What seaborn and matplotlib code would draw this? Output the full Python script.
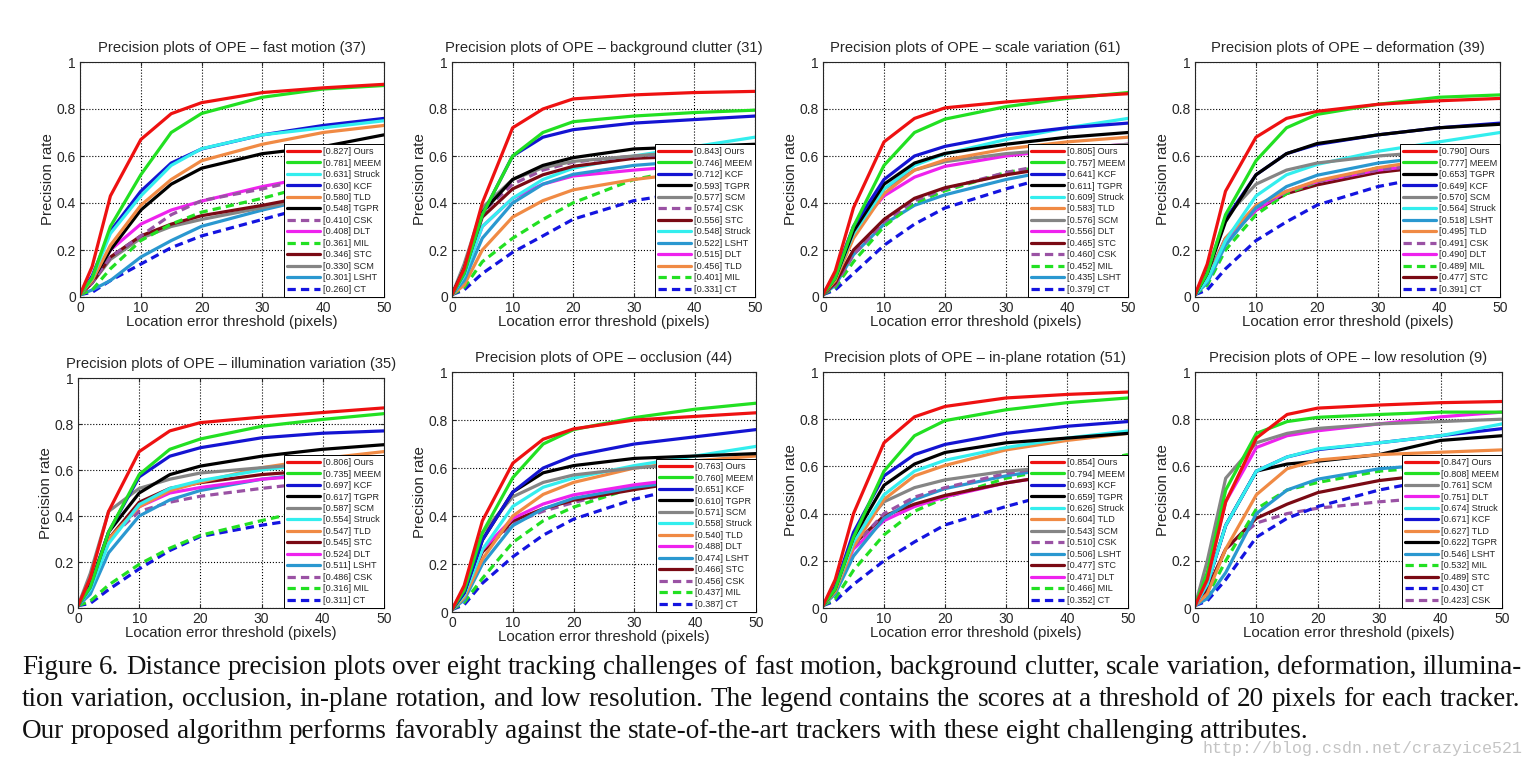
import seaborn as sns
import matplotlib.pyplot as plt

sns.set_style("ticks")
plt.rcParams['font.family'] = ['Liberation Sans', 'DejaVu Sans']

THR = [0, 2, 5, 10, 15, 20, 30, 40, 50]

COLORS = {
    "Ours": "#ee1111", "MEEM": "#22e022", "Struck": "#33eeee", "KCF": "#1414d2",
    "TLD": "#f08a44", "TGPR": "#000000", "CSK": "#9a52a4", "DLT": "#ee22ee",
    "MIL": "#22e022", "STC": "#7a0a14", "SCM": "#858585", "LSHT": "#2a98d0",
    "CT": "#1414e0",
}
DASHED = ["CSK", "MIL", "CT"]

fast_motion = {
    "Ours":   [0.01, 0.13, 0.43, 0.67, 0.78, 0.827, 0.87, 0.89, 0.905],
    "MEEM":   [0.01, 0.08, 0.30, 0.52, 0.70, 0.781, 0.85, 0.885, 0.90],
    "Struck": [0.01, 0.08, 0.27, 0.43, 0.56, 0.631, 0.69, 0.72, 0.75],
    "KCF":    [0.01, 0.09, 0.28, 0.45, 0.57, 0.630, 0.69, 0.73, 0.76],
    "TLD":    [0.01, 0.07, 0.22, 0.39, 0.50, 0.580, 0.65, 0.70, 0.73],
    "TGPR":   [0.01, 0.07, 0.20, 0.37, 0.48, 0.548, 0.61, 0.64, 0.69],
    "CSK":    [0.01, 0.06, 0.17, 0.26, 0.35, 0.410, 0.46, 0.52, 0.55],
    "DLT":    [0.01, 0.07, 0.20, 0.31, 0.37, 0.408, 0.47, 0.52, 0.56],
    "MIL":    [0.01, 0.03, 0.12, 0.24, 0.31, 0.361, 0.42, 0.49, 0.54],
    "STC":    [0.01, 0.06, 0.17, 0.26, 0.31, 0.346, 0.39, 0.44, 0.50],
    "SCM":    [0.01, 0.06, 0.16, 0.25, 0.30, 0.330, 0.38, 0.43, 0.50],
    "LSHT":   [0.01, 0.03, 0.07, 0.17, 0.24, 0.301, 0.37, 0.43, 0.48],
    "CT":     [0.01, 0.02, 0.07, 0.14, 0.21, 0.260, 0.33, 0.40, 0.47],
}
background_clutter = {
    "Ours":   [0.01, 0.12, 0.40, 0.72, 0.80, 0.843, 0.86, 0.87, 0.875],
    "MEEM":   [0.01, 0.10, 0.35, 0.60, 0.70, 0.746, 0.77, 0.785, 0.795],
    "KCF":    [0.01, 0.10, 0.35, 0.60, 0.68, 0.712, 0.74, 0.755, 0.77],
    "TGPR":   [0.01, 0.12, 0.36, 0.50, 0.56, 0.593, 0.63, 0.64, 0.65],
    "SCM":    [0.01, 0.14, 0.38, 0.50, 0.55, 0.577, 0.60, 0.62, 0.63],
    "CSK":    [0.01, 0.12, 0.36, 0.48, 0.54, 0.574, 0.60, 0.61, 0.62],
    "STC":    [0.01, 0.11, 0.34, 0.46, 0.52, 0.556, 0.59, 0.60, 0.61],
    "Struck": [0.01, 0.09, 0.30, 0.42, 0.50, 0.548, 0.60, 0.64, 0.68],
    "LSHT":   [0.01, 0.07, 0.25, 0.40, 0.48, 0.522, 0.56, 0.58, 0.60],
    "DLT":    [0.01, 0.09, 0.30, 0.42, 0.48, 0.515, 0.54, 0.56, 0.57],
    "TLD":    [0.01, 0.05, 0.20, 0.34, 0.41, 0.456, 0.50, 0.53, 0.55],
    "MIL":    [0.01, 0.04, 0.15, 0.25, 0.33, 0.401, 0.50, 0.55, 0.58],
    "CT":     [0.01, 0.03, 0.10, 0.19, 0.26, 0.331, 0.41, 0.45, 0.49],
}
scale_variation = {
    "Ours":   [0.01, 0.11, 0.38, 0.66, 0.76, 0.805, 0.83, 0.85, 0.865],
    "MEEM":   [0.01, 0.08, 0.30, 0.56, 0.70, 0.757, 0.81, 0.845, 0.87],
    "KCF":    [0.01, 0.09, 0.30, 0.50, 0.60, 0.641, 0.69, 0.72, 0.74],
    "TGPR":   [0.01, 0.08, 0.28, 0.48, 0.57, 0.611, 0.65, 0.68, 0.70],
    "Struck": [0.01, 0.08, 0.27, 0.46, 0.56, 0.609, 0.67, 0.72, 0.76],
    "TLD":    [0.01, 0.07, 0.25, 0.44, 0.54, 0.583, 0.63, 0.66, 0.68],
    "SCM":    [0.01, 0.10, 0.30, 0.46, 0.54, 0.576, 0.61, 0.63, 0.65],
    "DLT":    [0.01, 0.09, 0.28, 0.43, 0.51, 0.556, 0.60, 0.63, 0.65],
    "STC":    [0.01, 0.06, 0.20, 0.33, 0.42, 0.465, 0.52, 0.56, 0.59],
    "CSK":    [0.01, 0.05, 0.18, 0.32, 0.41, 0.460, 0.53, 0.58, 0.62],
    "MIL":    [0.01, 0.04, 0.15, 0.30, 0.40, 0.452, 0.53, 0.57, 0.60],
    "LSHT":   [0.01, 0.05, 0.18, 0.31, 0.39, 0.435, 0.50, 0.55, 0.58],
    "CT":     [0.01, 0.03, 0.10, 0.22, 0.31, 0.379, 0.46, 0.53, 0.58],
}
deformation = {
    "Ours":   [0.01, 0.14, 0.45, 0.68, 0.76, 0.790, 0.82, 0.835, 0.845],
    "MEEM":   [0.01, 0.10, 0.35, 0.58, 0.72, 0.777, 0.82, 0.85, 0.86],
    "TGPR":   [0.01, 0.10, 0.32, 0.52, 0.61, 0.653, 0.69, 0.72, 0.735],
    "KCF":    [0.01, 0.10, 0.33, 0.52, 0.61, 0.649, 0.69, 0.72, 0.74],
    "SCM":    [0.01, 0.11, 0.34, 0.48, 0.54, 0.570, 0.60, 0.62, 0.63],
    "Struck": [0.01, 0.07, 0.24, 0.43, 0.52, 0.564, 0.62, 0.66, 0.70],
    "LSHT":   [0.01, 0.06, 0.22, 0.38, 0.47, 0.518, 0.57, 0.60, 0.62],
    "TLD":    [0.01, 0.07, 0.25, 0.39, 0.45, 0.495, 0.55, 0.59, 0.62],
    "CSK":    [0.01, 0.08, 0.25, 0.38, 0.45, 0.491, 0.54, 0.57, 0.60],
    "DLT":    [0.01, 0.07, 0.24, 0.37, 0.45, 0.490, 0.54, 0.57, 0.59],
    "MIL":    [0.01, 0.05, 0.20, 0.35, 0.44, 0.489, 0.55, 0.58, 0.60],
    "STC":    [0.01, 0.08, 0.25, 0.37, 0.44, 0.477, 0.53, 0.56, 0.58],
    "CT":     [0.01, 0.03, 0.12, 0.24, 0.32, 0.391, 0.47, 0.52, 0.55],
}
illumination_variation = {
    "Ours":   [0.01, 0.13, 0.42, 0.68, 0.77, 0.806, 0.83, 0.85, 0.87],
    "MEEM":   [0.01, 0.09, 0.33, 0.58, 0.69, 0.735, 0.79, 0.82, 0.845],
    "KCF":    [0.01, 0.09, 0.33, 0.57, 0.66, 0.697, 0.74, 0.76, 0.77],
    "TGPR":   [0.01, 0.10, 0.33, 0.50, 0.58, 0.617, 0.66, 0.69, 0.71],
    "SCM":    [0.01, 0.15, 0.42, 0.52, 0.56, 0.587, 0.61, 0.63, 0.64],
    "Struck": [0.01, 0.08, 0.28, 0.45, 0.52, 0.554, 0.60, 0.63, 0.65],
    "TLD":    [0.01, 0.09, 0.30, 0.44, 0.51, 0.547, 0.61, 0.65, 0.68],
    "STC":    [0.01, 0.09, 0.30, 0.46, 0.52, 0.545, 0.58, 0.60, 0.62],
    "DLT":    [0.01, 0.09, 0.30, 0.44, 0.50, 0.524, 0.56, 0.58, 0.59],
    "LSHT":   [0.01, 0.06, 0.24, 0.40, 0.47, 0.511, 0.56, 0.59, 0.61],
    "CSK":    [0.01, 0.10, 0.30, 0.42, 0.46, 0.486, 0.52, 0.55, 0.57],
    "MIL":    [0.01, 0.03, 0.10, 0.19, 0.26, 0.316, 0.38, 0.44, 0.50],
    "CT":     [0.01, 0.02, 0.08, 0.17, 0.25, 0.311, 0.36, 0.40, 0.44],
}
occlusion = {
    "Ours":   [0.01, 0.11, 0.38, 0.62, 0.72, 0.763, 0.80, 0.815, 0.83],
    "MEEM":   [0.01, 0.09, 0.33, 0.56, 0.70, 0.760, 0.81, 0.845, 0.87],
    "KCF":    [0.01, 0.08, 0.30, 0.50, 0.60, 0.651, 0.70, 0.73, 0.76],
    "TGPR":   [0.01, 0.08, 0.30, 0.50, 0.58, 0.610, 0.64, 0.65, 0.66],
    "SCM":    [0.01, 0.10, 0.33, 0.48, 0.54, 0.571, 0.60, 0.62, 0.63],
    "Struck": [0.01, 0.07, 0.26, 0.44, 0.52, 0.558, 0.61, 0.65, 0.69],
    "TLD":    [0.01, 0.06, 0.22, 0.40, 0.49, 0.540, 0.60, 0.63, 0.65],
    "DLT":    [0.01, 0.08, 0.26, 0.39, 0.45, 0.488, 0.53, 0.56, 0.58],
    "LSHT":   [0.01, 0.05, 0.20, 0.36, 0.43, 0.474, 0.52, 0.55, 0.57],
    "STC":    [0.01, 0.08, 0.25, 0.38, 0.43, 0.466, 0.51, 0.55, 0.58],
    "CSK":    [0.01, 0.08, 0.25, 0.37, 0.42, 0.456, 0.52, 0.56, 0.59],
    "MIL":    [0.01, 0.04, 0.14, 0.29, 0.38, 0.437, 0.52, 0.57, 0.60],
    "CT":     [0.01, 0.03, 0.12, 0.23, 0.32, 0.387, 0.47, 0.53, 0.57],
}
in_plane_rotation = {
    "Ours":   [0.01, 0.12, 0.40, 0.70, 0.81, 0.854, 0.89, 0.905, 0.915],
    "MEEM":   [0.01, 0.08, 0.30, 0.58, 0.73, 0.794, 0.84, 0.87, 0.89],
    "KCF":    [0.01, 0.09, 0.32, 0.56, 0.65, 0.693, 0.74, 0.77, 0.79],
    "TGPR":   [0.01, 0.08, 0.30, 0.52, 0.61, 0.659, 0.70, 0.72, 0.74],
    "Struck": [0.01, 0.08, 0.28, 0.48, 0.58, 0.626, 0.68, 0.72, 0.75],
    "TLD":    [0.01, 0.07, 0.26, 0.46, 0.56, 0.604, 0.67, 0.71, 0.74],
    "SCM":    [0.01, 0.09, 0.30, 0.45, 0.51, 0.543, 0.58, 0.60, 0.62],
    "CSK":    [0.01, 0.08, 0.26, 0.40, 0.47, 0.510, 0.57, 0.61, 0.64],
    "LSHT":   [0.01, 0.06, 0.22, 0.38, 0.46, 0.506, 0.56, 0.60, 0.62],
    "STC":    [0.01, 0.08, 0.27, 0.39, 0.44, 0.477, 0.53, 0.57, 0.60],
    "DLT":    [0.01, 0.07, 0.25, 0.37, 0.43, 0.471, 0.53, 0.57, 0.60],
    "MIL":    [0.01, 0.04, 0.16, 0.31, 0.41, 0.466, 0.55, 0.60, 0.65],
    "CT":     [0.01, 0.03, 0.10, 0.20, 0.28, 0.352, 0.43, 0.50, 0.56],
}
low_resolution = {
    "Ours":   [0.01, 0.12, 0.45, 0.72, 0.82, 0.847, 0.86, 0.87, 0.875],
    "MEEM":   [0.01, 0.15, 0.50, 0.74, 0.79, 0.808, 0.82, 0.83, 0.83],
    "SCM":    [0.01, 0.20, 0.55, 0.70, 0.74, 0.761, 0.78, 0.79, 0.80],
    "DLT":    [0.01, 0.14, 0.45, 0.68, 0.73, 0.751, 0.78, 0.81, 0.83],
    "Struck": [0.01, 0.10, 0.35, 0.58, 0.64, 0.674, 0.70, 0.73, 0.78],
    "KCF":    [0.01, 0.10, 0.35, 0.58, 0.64, 0.671, 0.70, 0.73, 0.76],
    "TLD":    [0.01, 0.06, 0.25, 0.48, 0.59, 0.627, 0.65, 0.66, 0.67],
    "TGPR":   [0.01, 0.10, 0.35, 0.58, 0.61, 0.622, 0.65, 0.71, 0.73],
    "LSHT":   [0.01, 0.04, 0.15, 0.40, 0.50, 0.546, 0.59, 0.61, 0.62],
    "MIL":    [0.01, 0.05, 0.20, 0.42, 0.50, 0.532, 0.58, 0.60, 0.61],
    "STC":    [0.01, 0.08, 0.25, 0.38, 0.44, 0.489, 0.54, 0.57, 0.60],
    "CT":     [0.01, 0.03, 0.12, 0.30, 0.38, 0.430, 0.50, 0.55, 0.58],
    "CSK":    [0.01, 0.08, 0.25, 0.36, 0.40, 0.423, 0.45, 0.47, 0.49],
}

PANELS = [
    ("fast motion (37)", fast_motion, (80, 62, 384, 297)),
    ("background clutter (31)", background_clutter, (452, 62, 755, 297)),
    ("scale variation (61)", scale_variation, (823, 62, 1128, 297)),
    ("deformation (39)", deformation, (1195, 62, 1500, 297)),
    ("illumination variation (35)", illumination_variation, (78, 378, 384, 608)),
    ("occlusion (44)", occlusion, (452, 372, 756, 612)),
    ("in-plane rotation (51)", in_plane_rotation, (823, 372, 1128, 608)),
    ("low resolution (9)", low_resolution, (1195, 372, 1502, 608)),
]

W, H = 1536, 762
fig = plt.figure(figsize=(W / 100, H / 100), dpi=100)

for title, curves, (x0, y0, x1, y1) in PANELS:
    ax = fig.add_axes([x0 / W, 1 - y1 / H, (x1 - x0) / W, (y1 - y0) / H])
    i20 = THR.index(20)
    order = sorted(curves, key=lambda k: -curves[k][i20])
    for rank, name in enumerate(order):
        vals = curves[name]
        ls = (0, (2.6, 1.6)) if name in DASHED else "-"
        sns.lineplot(x=THR, y=vals, ax=ax, color=COLORS[name], linewidth=2.3,
                     linestyle=ls, label=f"[{vals[i20]:.3f}] {name}",
                     zorder=20 - rank)
    ax.set_xlim(0, 50)
    ax.set_ylim(0, 1)
    ax.set_xticks([0, 10, 20, 30, 40, 50])
    ax.set_yticks([0, 0.2, 0.4, 0.6, 0.8, 1])
    ax.set_yticklabels(["0", "0.2", "0.4", "0.6", "0.8", "1"])
    ax.grid(True, linestyle=":", color="black", linewidth=0.8)
    ax.tick_params(direction="in", labelsize=10, length=3, pad=3, top=True, right=True)
    for s in ax.spines.values():
        s.set_linewidth(0.8)
        s.set_zorder(30)
    ax.set_title("Precision plots of OPE \u2013 " + title, fontsize=10.6, pad=7)
    ax.set_xlabel("Location error threshold (pixels)", fontsize=10.8, labelpad=0)
    ax.set_ylabel("Precision rate", fontsize=10.8, labelpad=1)
    leg = ax.legend(loc="lower right", fontsize=6.6, fancybox=False, framealpha=1,
                    edgecolor="black", borderaxespad=0, handlelength=3.6,
                    labelspacing=0.27, borderpad=0.35, handletextpad=0.3)
    leg.get_frame().set_linewidth(0.7)
    leg.set_zorder(40)

# caption below the plots, justified like the paper
renderer = fig.canvas.get_renderer()


def justified(text, ybase, xl, xr, justify=True):
    words = text.split()
    arts = [fig.text(0, 1 - ybase / H, w, fontsize=19.5, va="baseline",
                     family=["Liberation Serif", "DejaVu Serif"], color="#111111")
            for w in words]
    widths = [a.get_window_extent(renderer).width for a in arts]
    space = arts[0].get_fontsize() * 0.25 * 100 / 72
    gap = (xr - xl - sum(widths)) / (len(words) - 1) if justify else space
    pos = xl
    for a, w in zip(arts, widths):
        a.set_x(pos / W)
        pos += w + gap


justified("Figure 6. Distance precision plots over eight tracking challenges of fast motion, "
          "background clutter, scale variation, deformation, illumina-", 674, 22, 1522)
justified("tion variation, occlusion, in-plane rotation, and low resolution. The legend contains "
          "the scores at a threshold of 20 pixels for each tracker.", 706, 22, 1520)
justified("Our proposed algorithm performs favorably against the state-of-the-art trackers "
          "with these eight challenging attributes.", 738, 22, 0, justify=False)

fig.text(1522 / W, 1 - 753 / H, "http://blog.csdn.net/crazyice521", ha="right", va="baseline",
         fontsize=12, color="#c4c4c4", family=["Liberation Mono", "DejaVu Sans Mono"])

fig.savefig("out.png", dpi=100)
